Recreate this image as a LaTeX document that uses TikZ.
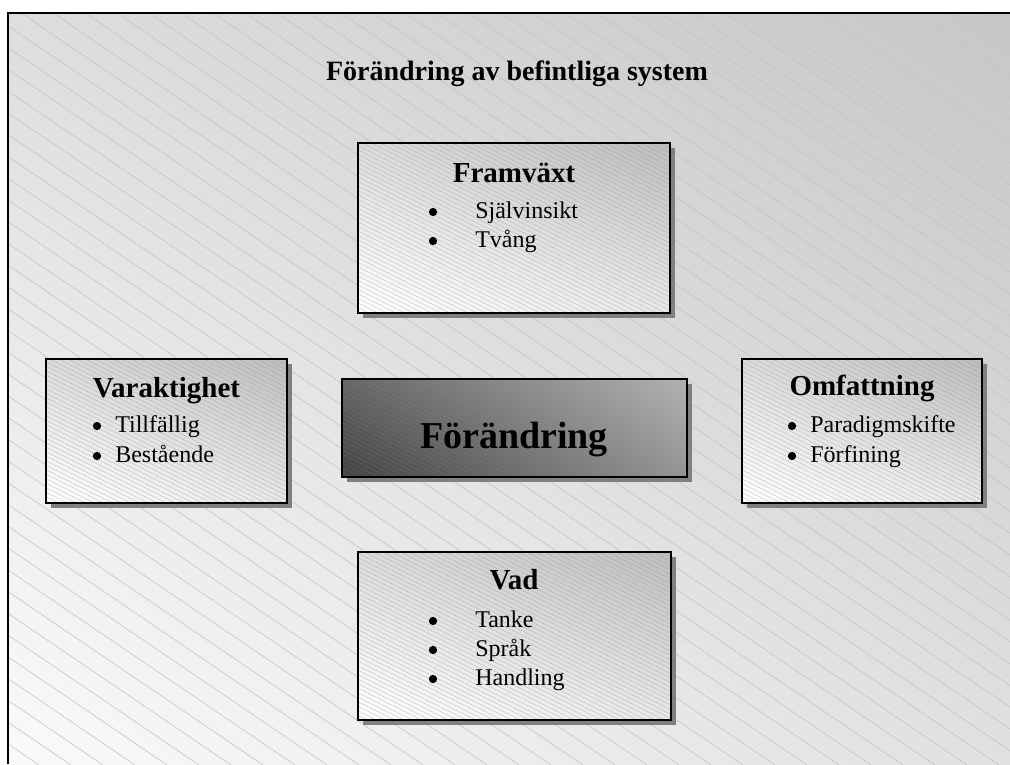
\documentclass[tikz,border=0pt]{standalone}
\usepackage{fontspec}
\setmainfont{Liberation Serif}
\usetikzlibrary{shadows,shadings}
\begin{document}
\begin{tikzpicture}[x=0.75pt,y=-0.75pt,
  hatch/.style={path picture={
      \foreach \k in {-45,...,45}{
        \draw[black!40,line width=0.3pt,opacity=#1]
          ([xshift=\k*6.75pt]path picture bounding box.center) ++(-300,-150) -- ++(600,300);}}},
  boxshadow/.style={drop shadow={shadow xshift=3.75pt,shadow yshift=-3.75pt,fill=black!50,opacity=1}},
  panel/.style={draw=black,line width=1.5pt,inner sep=0pt,shade,
      upper left=black!14,upper right=black!26,lower left=white,lower right=black!9,
      boxshadow,hatch=0.65},
  corebox/.style={draw=black,line width=1.5pt,inner sep=0pt,shade,
      upper left=black!60,upper right=black!30,lower left=black!74,lower right=black!42,
      boxshadow,hatch=0.3},
  title/.style={font=\bfseries\fontsize{21}{25}\selectfont,anchor=base,inner sep=0pt},
  head/.style={font=\bfseries\fontsize{21.75}{26}\selectfont,anchor=base,inner sep=0pt},
  core/.style={font=\bfseries\fontsize{28.5}{34}\selectfont,anchor=base,inner sep=0pt},
  item/.style={font=\fontsize{18}{21}\selectfont,anchor=base west,inner sep=0pt},
  dot/.style={circle,fill=black,inner sep=0pt,minimum size=6.2pt},
  bgline/.style={black!23,line width=0.45pt}
]
\useasboundingbox (0,0) rectangle (1010,764);

% page background with soft gradient and wide diagonal lines
\shade[upper left=black!13,upper right=black!22,lower left=black!2,lower right=black!12]
  (8,13) rectangle (1010,764);
\begin{scope}
  \clip (8,13) rectangle (1010,764);
  \foreach \c in {-1150,-1118,...,1010}
    \draw[bgline] (\c,0) -- ++(1200,816);
\end{scope}
\draw[line width=1.5pt] (8,764) -- (8,13) -- (1010,13);

% heading
\node[title] (ttl) at (517,80) {Förändring av befintliga system};

% boxes
\node[panel,minimum width=312*0.75pt,minimum height=170*0.75pt] (fram) at (514,228) {};
\node[corebox,minimum width=345*0.75pt,minimum height=98*0.75pt] (core) at (514.5,428) {};
\node[panel,minimum width=241*0.75pt,minimum height=144*0.75pt] (vara) at (166.5,431) {};
\node[panel,minimum width=240*0.75pt,minimum height=144*0.75pt] (omf) at (862,431) {};
\node[panel,minimum width=313*0.75pt,minimum height=168*0.75pt] (vad) at (514.5,636) {};

% Framväxt
\node[head] (fram-h) at (514,182) {Framväxt};
\node[dot] (fram-d1) at (433,212) {};
\node[item] (fram-i1) at (475,218) {Självinsikt};
\node[dot] (fram-d2) at (433,241) {};
\node[item] (fram-i2) at (475,247) {Tvång};

% centre
\node[core] (core-t) at (514,448) {Förändring};

% Varaktighet
\node[head] (vara-h) at (166.5,397) {Varaktighet};
\node[dot] (vara-d1) at (97,426) {};
\node[item] (vara-i1) at (115,432) {Tillfällig};
\node[dot] (vara-d2) at (97,456) {};
\node[item] (vara-i2) at (115,462) {Bestående};

% Omfattning
\node[head] (omf-h) at (862,395) {Omfattning};
\node[dot] (omf-d1) at (792,426) {};
\node[item] (omf-i1) at (810,432) {Paradigmskifte};
\node[dot] (omf-d2) at (792,456) {};
\node[item] (omf-i2) at (810,462) {Förfining};

% Vad
\node[head] (vad-h) at (514,589) {Vad};
\node[dot] (vad-d1) at (433,621) {};
\node[item] (vad-i1) at (475,627) {Tanke};
\node[dot] (vad-d2) at (433,650) {};
\node[item] (vad-i2) at (475,656) {Språk};
\node[dot] (vad-d3) at (433,679) {};
\node[item] (vad-i3) at (475,685) {Handling};
\end{tikzpicture}
\end{document}
